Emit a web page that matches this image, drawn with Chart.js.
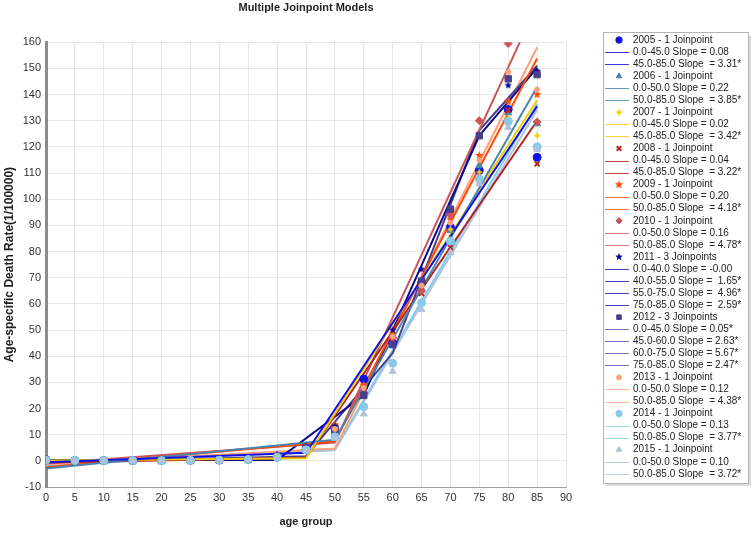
<!DOCTYPE html>
<html>
<head>
<meta charset="utf-8">
<script src="https://cdn.jsdelivr.net/npm/chart.js@4.4.1/dist/chart.umd.min.js"></script>
<style>
  html, body { margin: 0; padding: 0; background: #fff; }
  #wrap { width: 753px; height: 535px; position: relative; }
</style>
</head>
<body>
<div id="wrap"><canvas id="jp"></canvas></div>
<script>
const ages = [0, 5, 10, 15, 20, 25, 30, 35, 40, 45, 50, 55, 60, 65, 70, 75, 80, 85];
const years = ['2005', '2006', '2007', '2008', '2009', '2010', '2011', '2012', '2013', '2014', '2015'];

// observed age-specific rates
const rates2005 = [0.4, 0.1, 0.1, 0.1, 0.2, 0.2, 0.3, 0.6, 1.4, 4.3, 12.5, 31.3, 45.0, 68.0, 89.2, 111.0, 134.3, 116.0];
const rates2006 = [0.3, 0.1, 0.1, 0.1, 0.1, 0.2, 0.3, 0.5, 1.6, 4.8, 13.5, 27.0, 48.0, 66.0, 88.0, 112.8, 133.0, 128.8];
const rates2007 = [0.3, 0.1, 0.1, 0.1, 0.2, 0.2, 0.3, 0.5, 1.5, 4.5, 12.8, 28.5, 49.0, 67.0, 88.5, 110.3, 131.0, 124.3];
const rates2008 = [0.3, 0.1, 0.1, 0.1, 0.1, 0.2, 0.3, 0.6, 1.7, 5.2, 13.0, 26.5, 46.0, 64.0, 81.5, 106.4, 134.0, 113.5];
const rates2009 = [0.3, 0.1, 0.1, 0.1, 0.2, 0.2, 0.3, 0.6, 1.8, 5.5, 13.8, 29.0, 48.5, 68.0, 92.4, 116.7, 137.5, 140.0];
const rates2010 = [0.3, 0.1, 0.1, 0.1, 0.1, 0.2, 0.3, 0.5, 1.6, 5.0, 12.0, 26.0, 47.0, 64.9, 94.0, 130.0, 159.5, 129.5];
const rates2011 = [0.3, 0.1, 0.1, 0.1, 0.1, 0.2, 0.3, 0.6, 2.4, 5.6, 13.2, 27.5, 50.0, 73.2, 96.0, 124.0, 143.5, 149.0];
const rates2012 = [0.3, 0.1, 0.1, 0.1, 0.1, 0.2, 0.3, 0.5, 1.5, 5.0, 11.1, 25.0, 44.4, 68.7, 96.2, 124.3, 146.0, 147.6];
const rates2013 = [0.3, 0.1, 0.1, 0.1, 0.1, 0.2, 0.3, 0.5, 1.4, 4.6, 12.2, 27.8, 47.5, 67.0, 91.0, 115.0, 148.6, 141.9];
const rates2014 = [0.3, 0.1, 0.1, 0.1, 0.1, 0.2, 0.3, 0.5, 1.4, 4.2, 9.2, 20.7, 37.3, 60.4, 84.0, 107.7, 129.7, 120.0];
const rates2015 = [0.3, 0.1, 0.1, 0.1, 0.1, 0.2, 0.3, 0.5, 1.3, 4.0, 8.8, 17.9, 34.2, 57.8, 79.6, 106.0, 127.5, 119.0];

// fitted joinpoint lines: [age, fitted rate] at the ends and joinpoints
const fit2005 = [[0, -0.5], [45, 3.1], [85, 135.5]];
const fit2006 = [[0, -2.9], [50, 8.1], [85, 142.9]];
const fit2007 = [[0, 0.1], [45, 1.0], [85, 137.8]];
const fit2008 = [[0, -0.6], [45, 1.2], [85, 130.0]];
const fit2009 = [[0, -2.5], [50, 7.5], [85, 153.8]];
const fit2010 = [[0, -1.0], [50, 7.0], [85, 174.3]];
const fit2011 = [[0, 0.3], [40, 0.3], [55, 25.1], [75, 124.3], [85, 150.2]];
const fit2012 = [[0, -0.5], [45, 1.75], [60, 41.2], [75, 126.3], [85, 151.0]];
const fit2013 = [[0, -1.3], [50, 4.7], [85, 158.0]];
const fit2014 = [[0, -2.0], [50, 4.5], [85, 136.5]];
const fit2015 = [[0, -1.0], [50, 4.0], [85, 134.2]];

const models = ['1 Joinpoint', '1 Joinpoint', '1 Joinpoint', '1 Joinpoint', '1 Joinpoint', '1 Joinpoint',
  '3 Joinpoints', '3 Joinpoints', '1 Joinpoint', '1 Joinpoint', '1 Joinpoint'];
const slopes2005 = ['0.0-45.0 Slope = 0.08', '45.0-85.0 Slope  = 3.31*'];
const slopes2006 = ['0.0-50.0 Slope = 0.22', '50.0-85.0 Slope  = 3.85*'];
const slopes2007 = ['0.0-45.0 Slope = 0.02', '45.0-85.0 Slope  = 3.42*'];
const slopes2008 = ['0.0-45.0 Slope = 0.04', '45.0-85.0 Slope  = 3.22*'];
const slopes2009 = ['0.0-50.0 Slope = 0.20', '50.0-85.0 Slope  = 4.18*'];
const slopes2010 = ['0.0-50.0 Slope = 0.16', '50.0-85.0 Slope  = 4.78*'];
const slopes2011 = ['0.0-40.0 Slope = -0.00', '40.0-55.0 Slope =  1.65*', '55.0-75.0 Slope =  4.96*', '75.0-85.0 Slope =  2.59*'];
const slopes2012 = ['0.0-45.0 Slope = 0.05*', '45.0-60.0 Slope = 2.63*', '60.0-75.0 Slope = 5.67*', '75.0-85.0 Slope = 2.47*'];
const slopes2013 = ['0.0-50.0 Slope = 0.12', '50.0-85.0 Slope  = 4.38*'];
const slopes2014 = ['0.0-50.0 Slope = 0.13', '50.0-85.0 Slope  = 3.77*'];
const slopes2015 = ['0.0-50.0 Slope = 0.10', '50.0-85.0 Slope  = 3.72*'];

const allRates = [rates2005, rates2006, rates2007, rates2008, rates2009, rates2010, rates2011, rates2012, rates2013, rates2014, rates2015];
const allFits = [fit2005, fit2006, fit2007, fit2008, fit2009, fit2010, fit2011, fit2012, fit2013, fit2014, fit2015];
const allSlopes = [slopes2005, slopes2006, slopes2007, slopes2008, slopes2009, slopes2010, slopes2011, slopes2012, slopes2013, slopes2014, slopes2015];

// little filled star used as a point style
function makeStar(color, outer, inner, n) {
  const c = document.createElement('canvas');
  const s = Math.ceil(outer * 2 + 2);
  c.width = s; c.height = s;
  const g = c.getContext('2d');
  g.fillStyle = color;
  g.beginPath();
  for (let i = 0; i < n * 2; i++) {
    const r = i % 2 ? inner : outer;
    const a = -Math.PI / 2 + i * Math.PI / n;
    g.lineTo(s / 2 + r * Math.cos(a), s / 2 + r * Math.sin(a));
  }
  g.closePath();
  g.fill();
  return c;
}

const colors = ['#1010ee', '#4a84b0', '#f2cf00', '#b22222', '#ff4a0a', '#c9575a', '#0a0a8c', '#4a3f8a', '#ffa07a', '#87cbe8', '#b0c2dc'];
const legendLineColors = ['#3a3ae8', '#6a9ac4', '#f5d83a', '#c84040', '#ff7040', '#e07878', '#4040c0', '#7a72c0', '#ffb898', '#9ed6ee', '#bccce4'];
const markers = [
  { style: 'circle', r: 4 },
  { style: 'triangle', r: 4 },
  { style: makeStar('#f2cf00', 4, 1.6, 4), r: 4 },
  { style: 'crossRot', r: 3.5, bw: 2 },
  { style: makeStar('#ff4a0a', 4.5, 2, 5), r: 4 },
  { style: 'rectRot', r: 4 },
  { style: makeStar('#0a0a8c', 4, 1.8, 5), r: 4 },
  { style: 'rect', r: 4.5 },
  { style: 'circle', r: 2.5 },
  { style: 'circle', r: 4 },
  { style: 'triangle', r: 4 }
];

// markers sit above the fitted lines; later years' markers on top
const datasets = [];
years.forEach((yr, i) => {
  datasets.push({
    label: yr + ' fit',
    data: allFits[i].map(p => ({ x: p[0], y: p[1] })),
    showLine: true,
    borderColor: colors[i],
    borderWidth: 2,
    pointRadius: 0,
    tension: 0,
    order: 200 + i
  });
  datasets.push({
    label: yr,
    data: ages.map((a, k) => ({ x: a, y: allRates[i][k] })),
    showLine: false,
    pointStyle: markers[i].style,
    pointRadius: markers[i].r,
    pointBorderWidth: markers[i].bw || 1,
    pointBackgroundColor: colors[i],
    pointBorderColor: colors[i],
    order: 100 - i
  });
});

const legendBox = {
  id: 'jpLegend',
  afterDraw(chart) {
    const ctx = chart.ctx;
    ctx.save();
    ctx.fillStyle = '#dcdcdc';
    ctx.fillRect(606, 484, 145, 2);
    ctx.fillRect(749, 36, 2, 449);
    ctx.strokeStyle = '#b4b4b4';
    ctx.lineWidth = 1;
    ctx.strokeRect(603.5, 32.5, 145, 451);
    ctx.font = '10px "Liberation Sans", Arial, sans-serif';
    ctx.textBaseline = 'middle';
    let y = 40;
    const step = 12.05;
    years.forEach((yr, i) => {
      const m = markers[i];
      ctx.fillStyle = colors[i];
      ctx.strokeStyle = colors[i];
      ctx.lineWidth = m.bw || 1;
      Chart.helpers.drawPoint(ctx, { pointStyle: m.style, radius: Math.min(m.r, 3.2), rotation: 0, borderWidth: m.bw || 1 }, 619, y);
      ctx.fillStyle = '#222';
      ctx.fillText(yr + ' - ' + models[i], 633, y);
      y += step;
      allSlopes[i].forEach(t => {
        ctx.strokeStyle = legendLineColors[i];
        ctx.lineWidth = 1;
        ctx.beginPath();
        ctx.moveTo(605, Math.round(y) + 0.5);
        ctx.lineTo(629, Math.round(y) + 0.5);
        ctx.stroke();
        ctx.fillStyle = '#222';
        ctx.fillText(t, 633, y);
        y += step;
      });
    });
    ctx.restore();
  }
};

const tickFont = { family: '"Liberation Sans", Arial, sans-serif', size: 11 };
const boldFont = { family: '"Liberation Sans", Arial, sans-serif', size: 11, weight: 'bold' };

new Chart(document.getElementById('jp'), {
  type: 'scatter',
  data: { datasets },
  plugins: [legendBox],
  options: {
    responsive: true,
    maintainAspectRatio: false,
    animation: false,
    layout: { padding: { left: 0, right: 187, top: 0, bottom: 0 } },
    plugins: {
      legend: { display: false },
      tooltip: { enabled: false },
      title: {
        display: true,
        text: 'Multiple Joinpoint Models',
        fullSize: false,
        color: '#222',
        font: boldFont,
        padding: { top: 1, bottom: 28 }
      }
    },
    scales: {
      x: {
        type: 'linear',
        min: 0,
        max: 90,
        ticks: { stepSize: 5, font: tickFont, color: '#333', padding: 4 },
        grid: { color: '#e6e6e6', drawTicks: false },
        border: { color: '#a0a0a0' },
        title: { display: true, text: 'age group', color: '#222', font: boldFont, padding: { top: 0, bottom: 6 } },
        afterFit(s) { s.height = 48; }
      },
      y: {
        min: -10,
        max: 160,
        ticks: { stepSize: 10, font: tickFont, color: '#333', padding: 5 },
        grid: { color: '#e6e6e6', drawTicks: false },
        border: { color: '#8c8c8c', width: 3 },
        title: { display: true, text: 'Age-specific Death Rate(1/100000)', color: '#222', font: { family: '"Liberation Sans", Arial, sans-serif', size: 12, weight: 'bold' }, padding: { top: 2, bottom: 2 } },
        afterFit(s) { s.width = 46; }
      }
    }
  }
});
</script>
</body>
</html>
